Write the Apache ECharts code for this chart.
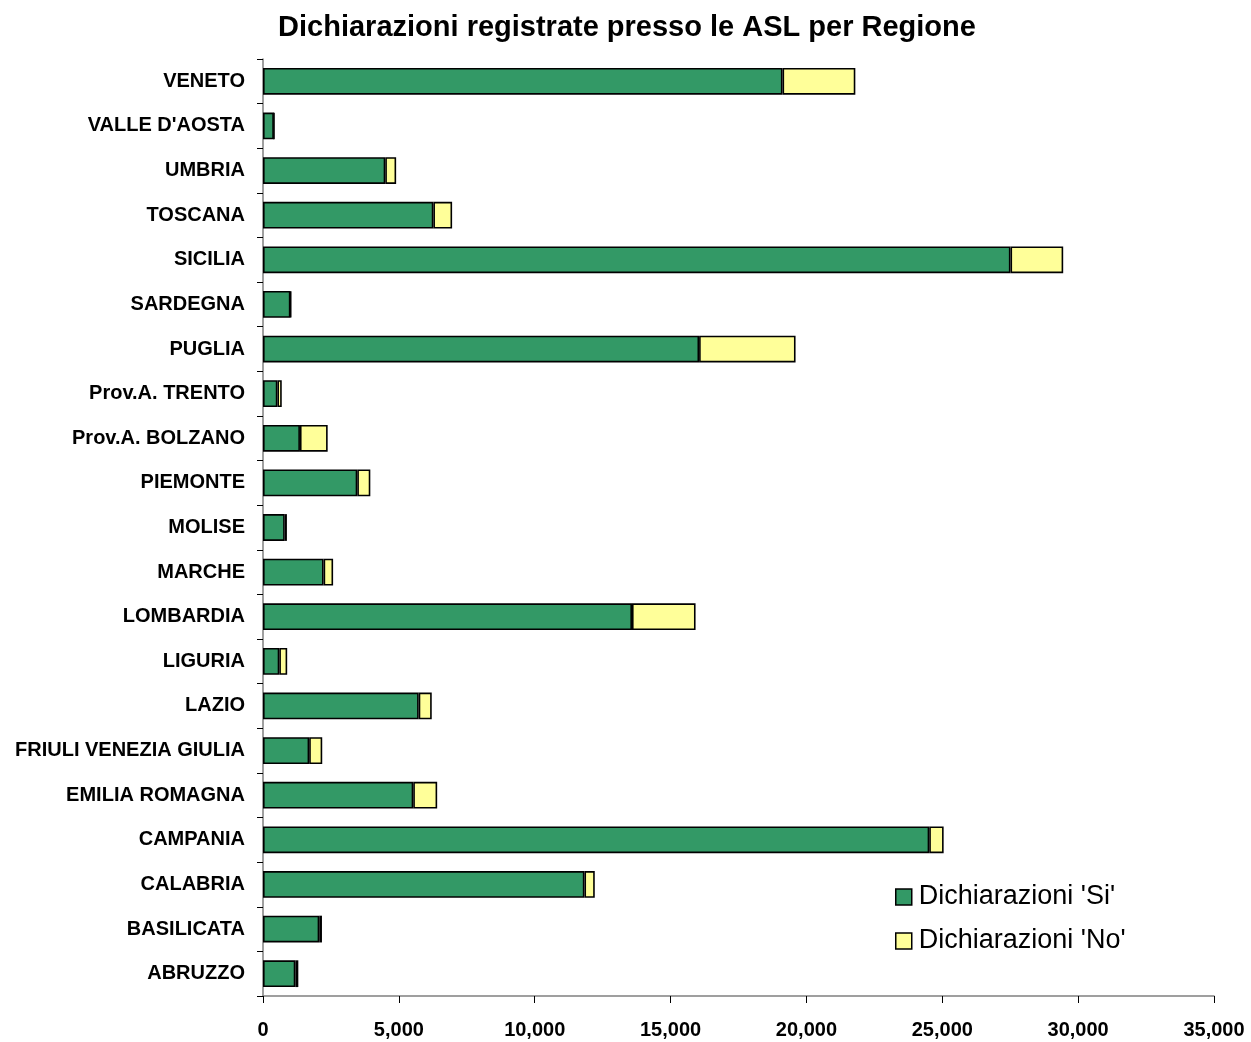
<!DOCTYPE html>
<html>
<head>
<meta charset="utf-8">
<script src="https://cdn.jsdelivr.net/npm/echarts@6/dist/echarts.min.js"></script>
<style>
  html, body { margin: 0; padding: 0; background: #fff; }
  #chart { width: 1251px; height: 1042px; }
</style>
</head>
<body>
<div id="chart"></div>
<script>
// Regions, listed bottom-to-top as drawn on the category axis
const regions = [
  'ABRUZZO', 'BASILICATA', 'CALABRIA', 'CAMPANIA', 'EMILIA ROMAGNA',
  'FRIULI VENEZIA GIULIA', 'LAZIO', 'LIGURIA', 'LOMBARDIA', 'MARCHE',
  'MOLISE', 'PIEMONTE', 'Prov.A. BOLZANO', 'Prov.A. TRENTO', 'PUGLIA',
  'SARDEGNA', 'SICILIA', 'TOSCANA', 'UMBRIA', "VALLE D'AOSTA", 'VENETO'
];

// Declarations "Si" per region
const dichiarazioniSi = [
  1190, 2070, 11830, 24520, 5530,
  1700, 5730, 600, 13580, 2230,
  800, 3470, 1360, 530, 16050,
  1010, 27510, 6270, 4500, 400, 19120
];

// Declarations "No" per region
const dichiarazioniNo = [
  110, 100, 380, 530, 880,
  480, 480, 290, 2340, 350,
  80, 480, 1020, 160, 3550,
  20, 1940, 690, 400, 10, 2680
];

const xTicks = { min: 0, max: 35000, interval: 5000 };

const chart = echarts.init(document.getElementById('chart'), null, { renderer: 'canvas' });

const barBorder = { borderColor: '#000', borderWidth: 1.6 };
const fontFamily = 'Liberation Sans, Arial, sans-serif';

chart.setOption({
  backgroundColor: '#ffffff',
  animation: false,
  title: {
    text: 'Dichiarazioni registrate presso le ASL per Regione',
    left: 622,
    top: 8,
    textAlign: 'center',
    textStyle: {
      fontFamily: fontFamily,
      fontWeight: 'bold',
      fontSize: 29,
      color: '#000'
    }
  },
  legend: {
    orient: 'vertical',
    left: 890,
    top: 878,
    itemWidth: 16,
    itemHeight: 16,
    itemGap: 16,
    icon: 'rect',
    itemStyle: { borderColor: '#000', borderWidth: 1.5 },
    textStyle: {
      fontFamily: fontFamily,
      fontSize: 27,
      lineHeight: 28,
      color: '#000',
      padding: [0, 0, 0, 2]
    },
    data: ["Dichiarazioni 'Si'", "Dichiarazioni 'No'"]
  },
  grid: {
    left: 263,
    right: 37,
    top: 59,
    bottom: 46,
    containLabel: false
  },
  xAxis: {
    type: 'value',
    min: xTicks.min,
    max: xTicks.max,
    interval: xTicks.interval,
    axisLine: { show: true, lineStyle: { color: '#808080', width: 1.5 } },
    axisTick: { show: true, length: 7, lineStyle: { color: '#000', width: 1 } },
    splitLine: { show: false },
    axisLabel: {
      margin: 24,
      fontFamily: fontFamily,
      fontWeight: 'bold',
      fontSize: 20,
      color: '#000',
      formatter: v => v.toLocaleString('en-US')
    }
  },
  yAxis: {
    type: 'category',
    data: regions,
    axisLine: { show: true, lineStyle: { color: '#808080', width: 1.5 } },
    axisTick: { show: true, length: 6, alignWithLabel: false, lineStyle: { color: '#000', width: 1 } },
    axisLabel: {
      margin: 18,
      fontFamily: fontFamily,
      fontWeight: 'bold',
      fontSize: 20,
      color: '#000'
    }
  },
  series: [
    {
      name: "Dichiarazioni 'Si'",
      type: 'bar',
      stack: 'totale',
      data: dichiarazioniSi,
      barCategoryGap: '40%',
      itemStyle: Object.assign({ color: '#339966' }, barBorder)
    },
    {
      name: "Dichiarazioni 'No'",
      type: 'bar',
      stack: 'totale',
      data: dichiarazioniNo,
      barCategoryGap: '40%',
      itemStyle: Object.assign({ color: '#FFFF99' }, barBorder)
    }
  ]
});
</script>
</body>
</html>
